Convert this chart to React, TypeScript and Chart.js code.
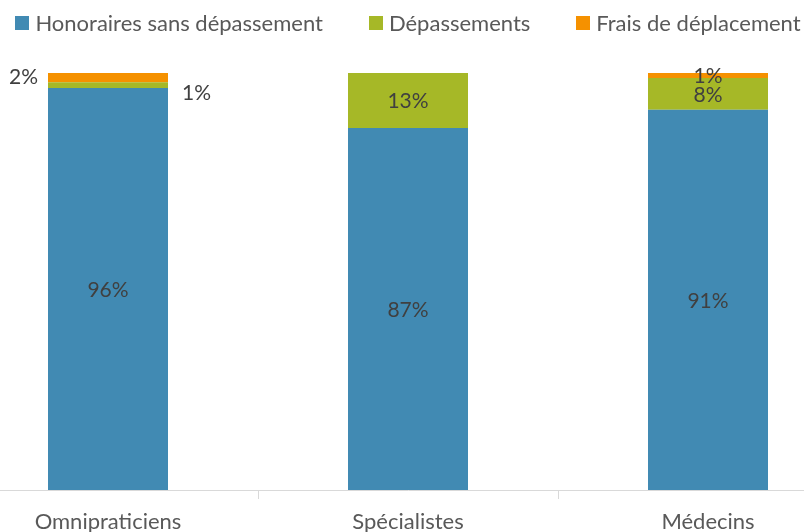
import React, { useEffect, useRef } from 'react';
import { Chart, registerables } from 'chart.js';

Chart.register(...registerables);

const categories = ['Omnipraticiens', 'Spécialistes', 'Médecins'];
const seriesNames = ['Honoraires sans dépassement', 'Dépassements', 'Frais de déplacement'];
const honoraires = [96.4, 86.8, 91.2];
const depassements = [1.4, 13.2, 7.6];
const fraisDeplacement = [2.2, 0, 1.2];
const seriesColors = ['#418AB3', '#A6B827', '#F59100'];

const FONT = 'Lato';
// label placement per "categoryIndex-datasetIndex"
const labelPlacement: Record<string, string> = { '0-1': 'right', '0-2': 'left' };

const labelPlugin = {
  id: 'segLabels',
  afterDatasetsDraw(chart: any) {
    const ctx = chart.ctx;
    ctx.save();
    ctx.font = `21px ${FONT}`;
    ctx.fillStyle = '#404040';
    ctx.textBaseline = 'middle';
    chart.data.datasets.forEach((ds: any, di: number) => {
      const meta = chart.getDatasetMeta(di);
      meta.data.forEach((bar: any, i: number) => {
        const v = ds.data[i];
        if (!v) return;
        const { x, y, base, width } = bar.getProps(['x', 'y', 'base', 'width'], true);
        const cy = (y + base) / 2;
        const place = labelPlacement[`${i}-${di}`] || 'center';
        let tx = x;
        let align = 'center';
        let dy = 1;
        if (place === 'left') { tx = x - width / 2 - 10; align = 'right'; dy = 0; }
        if (place === 'right') { tx = x + width / 2 + 14; align = 'left'; dy = 8; }
        ctx.textAlign = align;
        ctx.fillText(Math.round(v) + '%', tx, cy + dy);
      });
    });
    ctx.restore();
  },
};

export default function App() {
  const ref = useRef<HTMLCanvasElement | null>(null);

  useEffect(() => {
    if (!ref.current) return;
    const seriesData = [honoraires, depassements, fraisDeplacement];
    const chart = new Chart(ref.current, {
      type: 'bar',
      data: {
        labels: categories,
        datasets: seriesNames.map((name, k) => ({
          label: name,
          data: seriesData[k],
          backgroundColor: seriesColors[k],
          borderWidth: 0,
          barPercentage: 0.4,
          categoryPercentage: 1.0,
        })),
      },
      options: {
        responsive: false,
        animation: false,
        layout: { padding: { top: 73, bottom: 0, left: 0, right: 0 } },
        plugins: {
          legend: { display: false },
          tooltip: { enabled: false },
        },
        scales: {
          x: {
            stacked: true,
            afterFit: (scale: any) => { scale.height = 42; },
            grid: {
              drawOnChartArea: false,
              drawTicks: true,
              tickLength: 9,
              color: '#D9D9D9',
              offset: true,
            },
            border: { color: '#D9D9D9', width: 1 },
            ticks: {
              color: '#595959',
              font: { size: 22, family: FONT },
              padding: 10,
            },
          },
          y: {
            stacked: true,
            display: false,
            min: 0,
            max: 100,
          },
        },
      },
      plugins: [labelPlugin],
    });
    return () => chart.destroy();
  }, []);

  return (
    <div
      style={{
        position: 'fixed',
        left: 0,
        top: 0,
        width: 804,
        height: 532,
        overflow: 'hidden',
        background: '#fff',
      }}
    >
      <div
        style={{
          position: 'absolute',
          left: 0,
          top: 11,
          width: 816,
          height: 24,
          display: 'flex',
          justifyContent: 'center',
          alignItems: 'center',
          gap: 46,
          fontFamily: FONT,
          fontSize: 22,
          color: '#595959',
          whiteSpace: 'nowrap',
          zIndex: 2,
        }}
      >
        {seriesNames.map((name, k) => (
          <div key={name} style={{ display: 'flex', alignItems: 'center', gap: 6 }}>
            <span style={{ display: 'inline-block', width: 14, height: 14, background: seriesColors[k] }} />
            <span style={{ lineHeight: '24px' }}>{name}</span>
          </div>
        ))}
      </div>
      <canvas
        ref={ref}
        width={900}
        height={532}
        style={{ position: 'absolute', left: -42, top: 0, width: 900, height: 532 }}
      />
    </div>
  );
}
